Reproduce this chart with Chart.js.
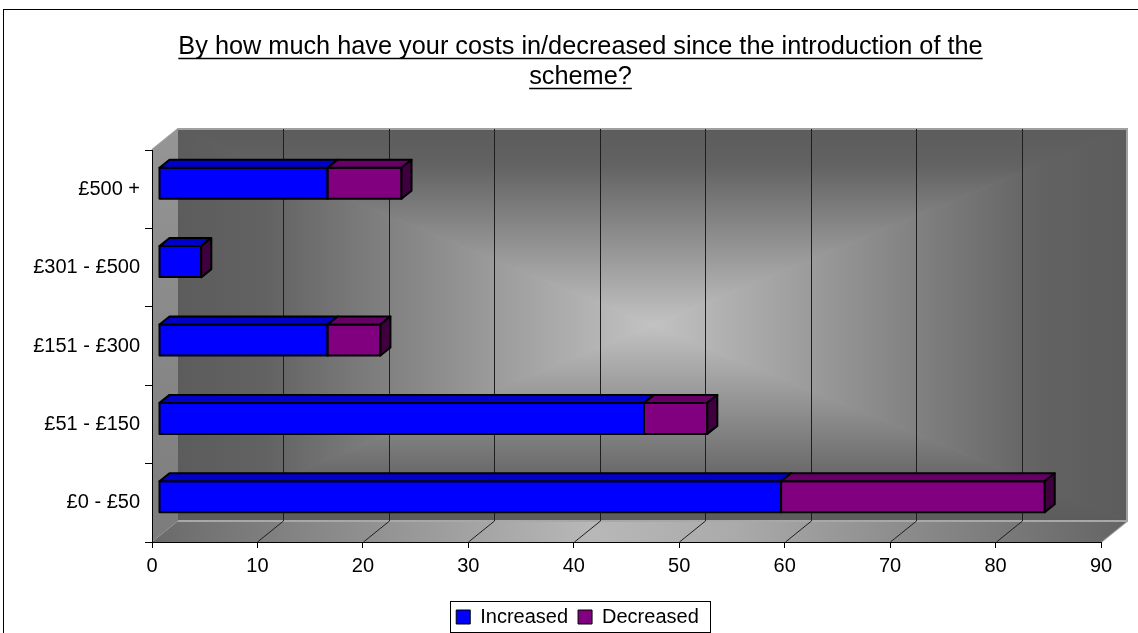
<!DOCTYPE html>
<html>
<head>
<meta charset="utf-8">
<script src="https://cdn.jsdelivr.net/npm/chart.js@4.4.0/dist/chart.umd.min.js"></script>
<style>
  html, body { margin: 0; padding: 0; background: #fff; overflow: hidden; }
  #wrap { width: 1138px; height: 637px; }
</style>
</head>
<body>
<div id="wrap"><canvas id="myChart" width="1138" height="637"></canvas></div>
<script>
// data, top row first (as the chart reads)
const categories = ['£500 +', '£301 - £500', '£151 - £300', '£51 - £150', '£0 - £50'];
const increased = [16, 4, 16, 46, 59];
const decreased = [7, 0, 5, 6, 25];
const titleLines = ['By how much have your costs in/decreased since the introduction of the', 'scheme?'];

const FONT = "'Liberation Sans', Arial, sans-serif";

// 3d look
const WALL_DX = 26, WALL_DY = -21;
const BAR_SX = 7, BAR_SY = -6;
const BAR_DX = 10, BAR_DY = -8;

const faceColors = [
    { front: '#0000ff', top: '#0000c8', side: '#000080' },
    { front: '#800080', top: '#660066', side: '#400040' }
];

function poly(c, pts, fill, stroke, lw) {
    c.beginPath();
    c.moveTo(pts[0][0], pts[0][1]);
    for (let i = 1; i < pts.length; i++) c.lineTo(pts[i][0], pts[i][1]);
    c.closePath();
    if (fill) { c.fillStyle = fill; c.fill(); }
    if (stroke) { c.strokeStyle = stroke; c.lineWidth = lw || 1; c.stroke(); }
}

const backdrop = {
    id: 'backdrop',
    beforeDraw(chart) {
        const c = chart.ctx;
        const a = chart.chartArea;
        const xs = chart.scales.x;
        const L = a.left + WALL_DX, R = a.right + WALL_DX, T = a.top + WALL_DY, B = a.bottom + WALL_DY;
        const cx = (L + R) / 2, cy = (T + B) / 2;
        c.save();

        // outer frame
        c.strokeStyle = '#000';
        c.lineWidth = 1;
        c.strokeRect(3.5, 9.5, 1300, 700);

        // back wall, rectangular "from centre" gradient
        const dark = '#5c5c5c', light = '#c2c2c2';
        const parts = [
            [[L, T], [R, T], [cx, cy], [0, T, 0, cy]],
            [[L, B], [R, B], [cx, cy], [0, B, 0, cy]],
            [[L, T], [L, B], [cx, cy], [L, 0, cx, 0]],
            [[R, T], [R, B], [cx, cy], [R, 0, cx, 0]]
        ];
        parts.forEach(p => {
            const g = c.createLinearGradient(p[3][0], p[3][1], p[3][2], p[3][3]);
            g.addColorStop(0, dark);
            g.addColorStop(0.18, '#626262');
            g.addColorStop(1, light);
            poly(c, [p[0], p[1], p[2]], g);
            c.strokeStyle = g; c.lineWidth = 1; c.stroke();
        });
        // light rim on top and right of the wall
        c.strokeStyle = '#a0a0a0';
        c.lineWidth = 2;
        c.beginPath();
        c.moveTo(a.left, a.top); c.lineTo(L, T); c.lineTo(R, T); c.lineTo(R, B); c.lineTo(a.right, a.bottom);
        c.stroke();

        // left wall
        const lg = c.createLinearGradient(0, T, 0, a.bottom);
        lg.addColorStop(0, '#959595');
        lg.addColorStop(1, '#7c7c7c');
        poly(c, [[a.left, a.top], [L, T], [L, B], [a.left, a.bottom]], lg);

        // floor
        const fg = c.createLinearGradient(a.left, 0, R, 0);
        fg.addColorStop(0, '#6a6a6a');
        fg.addColorStop(0.45, '#b8b8b8');
        fg.addColorStop(0.6, '#aaaaaa');
        fg.addColorStop(1, '#646464');
        poly(c, [[a.left, a.bottom], [L, B], [R, B], [a.right, a.bottom]], fg);
        c.strokeStyle = '#a8a8a8';
        c.lineWidth = 2;
        c.beginPath(); c.moveTo(L, B); c.lineTo(R, B); c.stroke();

        // gridlines on the back wall and their floor continuations
        c.strokeStyle = '#1e1e1e';
        c.lineWidth = 1;
        xs.ticks.forEach(t => {
            if (t.value <= xs.min || t.value >= xs.max) return;
            const px = Math.round(xs.getPixelForValue(t.value)) + 0.5;
            c.beginPath();
            c.moveTo(px + WALL_DX, T);
            c.lineTo(px + WALL_DX, B);
            c.moveTo(px, a.bottom);
            c.lineTo(px + WALL_DX, B);
            c.stroke();
        });
        c.restore();
    }
};

const bars3d = {
    id: 'bars3d',
    beforeDatasetsDraw(chart) {
        const c = chart.ctx;
        c.save();
        c.lineJoin = 'round';
        const n = chart.data.labels.length;
        for (let i = 0; i < n; i++) {
            chart.data.datasets.forEach((ds, d) => {
                const el = chart.getDatasetMeta(d).data[i];
                if (!el) return;
                const p = el.getProps(['x', 'y', 'base', 'height'], true);
                const x0 = Math.min(p.base, p.x) + BAR_SX;
                const x1 = Math.max(p.base, p.x) + BAR_SX;
                const y0 = p.y - p.height / 2 + BAR_SY;
                const y1 = p.y + p.height / 2 + BAR_SY;
                const col = faceColors[d];
                if (x1 - x0 > 0.5) {
                    poly(c, [[x0, y0], [x1, y0], [x1, y1], [x0, y1]], col.front, '#000', 2);
                    poly(c, [[x0, y0], [x0 + BAR_DX, y0 + BAR_DY], [x1 + BAR_DX, y0 + BAR_DY], [x1, y0]], col.top, '#000', 2);
                }
                poly(c, [[x1, y0], [x1 + BAR_DX, y0 + BAR_DY], [x1 + BAR_DX, y1 + BAR_DY], [x1, y1]], col.side, '#000', 2);
            });
        }
        c.restore();
        return false;
    }
};

const decor = {
    id: 'decor',
    afterLayout(chart) {
        // Excel placed title and legend a little right of the middle
        const tb = chart.titleBlock;
        if (tb) { tb.left += 30; tb.right += 30; }
        const lg = chart.legend;
        if (lg) { lg.left += 27; lg.right += 27; }
    },
    afterDraw(chart) {
        const c = chart.ctx;
        c.save();
        // underline the title
        const tb = chart.titleBlock;
        const tf = chart.options.plugins.title.font;
        const lh = tf.size * tf.lineHeight;
        c.font = tf.size + 'px ' + FONT;
        c.strokeStyle = '#000';
        c.lineWidth = 1.5;
        const mid = (tb.left + tb.right) / 2;
        titleLines.forEach((s, i) => {
            const w = c.measureText(s).width;
            const y = Math.round(tb.top + chart.options.plugins.title.padding.top + lh / 2 + i * lh + tf.size * 0.45) + 0.5;
            c.beginPath();
            c.moveTo(mid - w / 2, y);
            c.lineTo(mid + w / 2, y);
            c.stroke();
        });
        // border round the legend row
        const lg = chart.legend;
        const pad = lg.options.labels.padding;
        const rowW = lg.lineWidths[0];
        const start = (lg.left + pad + lg.right - rowW) / 2;
        const rowTop = lg.top + pad;
        const l = Math.round(start - 6) + 0.5;
        const r = Math.round(start + rowW - pad + 11) + 0.5;
        const t = Math.round(rowTop - 6) + 0.5;
        const b = Math.round(rowTop + 25) + 0.5;
        c.strokeStyle = '#000';
        c.lineWidth = 1;
        c.strokeRect(l, t, r - l, b - t);
        c.restore();
    }
};

const ctx = document.getElementById('myChart');

const data = {
    labels: categories,
    datasets: [
        {
            label: 'Increased',
            data: increased,
            backgroundColor: '#0000ff',
            borderColor: '#000',
            borderWidth: 1,
            barThickness: 31
        },
        {
            label: 'Decreased',
            data: decreased,
            backgroundColor: '#800080',
            borderColor: '#000',
            borderWidth: 1,
            barThickness: 31
        }
    ]
};

const options = {
    indexAxis: 'y',
    responsive: false,
    animation: false,
    layout: { padding: { left: 0, right: 37, top: 0, bottom: 0 } },
    plugins: {
        title: {
            display: true,
            text: titleLines,
            color: '#000',
            font: { family: FONT, size: 25.3, weight: 'normal', lineHeight: 1.186 },
            padding: { top: 32, bottom: 58 }
        },
        legend: {
            position: 'bottom',
            labels: {
                color: '#000',
                font: { family: FONT, size: 20 },
                boxWidth: 14,
                boxHeight: 14,
                padding: 10
            }
        },
        tooltip: { enabled: false }
    },
    scales: {
        x: {
            type: 'linear',
            stacked: true,
            min: 0,
            max: 90,
            ticks: { stepSize: 10, color: '#000', font: { family: FONT, size: 20 }, padding: 6, maxRotation: 0 },
            grid: { drawOnChartArea: false, drawTicks: true, tickLength: 6, color: '#000' },
            border: { display: true, color: '#000', width: 1 },
            afterFit(scale) { scale.height = 55; }
        },
        y: {
            stacked: true,
            ticks: { color: '#000', font: { family: FONT, size: 20 }, padding: 5 },
            grid: { drawOnChartArea: false, drawTicks: true, tickLength: 7, color: '#000' },
            border: { display: true, color: '#000', width: 1 },
            afterFit(scale) { scale.width = 152; }
        }
    }
};

const chart = new Chart(ctx, {
    type: 'bar',
    data: data,
    options: options,
    plugins: [backdrop, bars3d, decor]
});
</script>
</body>
</html>
